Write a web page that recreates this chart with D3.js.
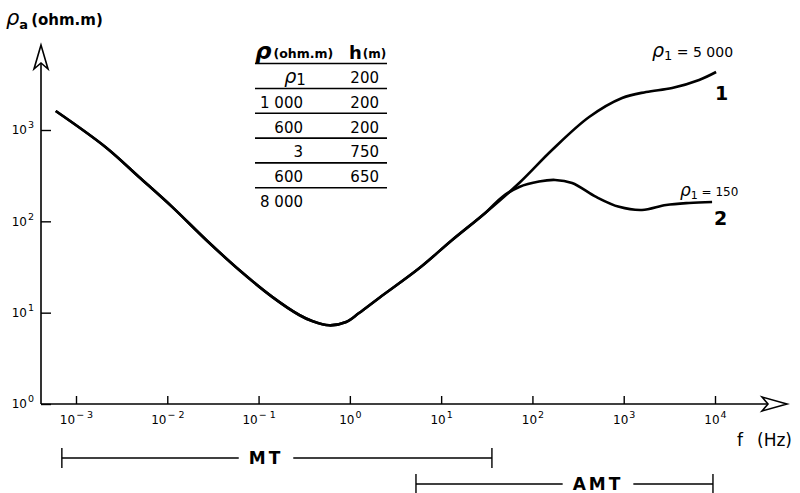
<!DOCTYPE html>
<html>
<head>
<meta charset="utf-8">
<script src="https://d3js.org/d3.v7.min.js"></script>
<style>
body { margin: 0; background: #fff; }
text { font-family: "DejaVu Sans", sans-serif; fill: #000; }
</style>
</head>
<body>
<script>
// apparent resistivity curves (f in Hz, rho in ohm.m)
var commonF   = [6.0e-4, 2.1e-3, 4.9e-3, 0.0113, 0.0267, 0.0614, 0.141, 0.279, 0.386, 0.593, 0.91, 1.26, 2.09, 5.74, 13.2, 31.1];
var commonRho = [1615, 652, 306, 144, 62.5, 29.3, 14.9, 9.43, 8.1, 7.27, 7.9, 9.9, 14.5, 30.6, 62.5, 126];

var curve1F   = [71.6, 164, 418, 960, 1758, 3390, 6700, 10280];
var curve1Rho = [263, 604, 1387, 2240, 2608, 2884, 3530, 4315];

var curve2F   = [46.6, 71.6, 118, 177, 272, 499, 891, 1585, 2915, 5200, 9290];
var curve2Rho = [185, 238, 273, 284, 263, 185, 144, 133, 151, 159, 163];

var xTicks = [1e-3, 1e-2, 1e-1, 1, 10, 100, 1000, 10000];
var yTicks = [1, 10, 100, 1000];

var tableRho = ["ρ1", "1 000", "600", "3", "600", "8 000"];
var tableH   = ["200", "200", "200", "750", "650", ""];

var bands = [
  {name: "MT",  from: 7e-4, to: 36},
  {name: "AMT", from: 5.3,  to: 9500}
];

var svg = d3.select("body").append("svg")
  .attr("width", 800)
  .attr("height", 493);

var x = d3.scaleLog().domain([1e-3, 1e4]).range([76, 715]);
var y = d3.scaleLog().domain([1, 1e3]).range([404, 130]);

var x0 = 41, yBase = 404;

// axes lines + arrows
svg.append("line").attr("x1", x0).attr("x2", 770).attr("y1", yBase).attr("y2", yBase)
  .attr("stroke", "#000").attr("stroke-width", 1.6);
svg.append("line").attr("x1", x0).attr("x2", x0).attr("y1", yBase).attr("y2", 62)
  .attr("stroke", "#000").attr("stroke-width", 1.6);
svg.append("path").attr("d", "M787,404 L762,397 L768,404 L762,411 Z")
  .attr("fill", "#fff").attr("stroke", "#000").attr("stroke-width", 1.6);
svg.append("path").attr("d", "M41,45 L34,69 L41,63 L48,69 Z")
  .attr("fill", "#fff").attr("stroke", "#000").attr("stroke-width", 1.6);

function supLabel(sel, d) {
  var e = Math.round(Math.log10(d));
  sel.text(null);
  sel.append("tspan").text("10");
  sel.append("tspan").attr("dy", -6).attr("dx", 1).attr("font-size", 9.5)
    .text(e < 0 ? "\u2212 " + (-e) : String(e));
}

var xAxis = d3.axisBottom(x).tickValues(xTicks).tickSizeInner(-8).tickSizeOuter(0).tickPadding(11);
var gx = svg.append("g").attr("transform", "translate(0," + yBase + ")").call(xAxis);
gx.select(".domain").remove();
gx.selectAll(".tick line").attr("stroke-width", 1.4);
gx.selectAll(".tick text").attr("font-size", 12).attr("font-family", "DejaVu Sans, sans-serif")
  .each(function(d) { supLabel(d3.select(this), d); });

var yAxis = d3.axisLeft(y).tickValues(yTicks).tickSizeInner(-10).tickSizeOuter(0).tickPadding(7);
var gy = svg.append("g").attr("transform", "translate(" + x0 + ",0)").call(yAxis);
gy.select(".domain").remove();
gy.selectAll(".tick line").attr("stroke-width", 1.4);
gy.selectAll(".tick text").attr("font-size", 12).attr("font-family", "DejaVu Sans, sans-serif")
  .each(function(d) { supLabel(d3.select(this), d); });

// curves
var line = d3.line()
  .x(function(d) { return x(d[0]); })
  .y(function(d) { return y(d[1]); })
  .curve(d3.curveCatmullRom.alpha(0.5));

function pts(fs, rs) { return fs.map(function(f, i) { return [f, rs[i]]; }); }
var common = pts(commonF, commonRho);

svg.append("path").datum(common.concat(pts(curve1F, curve1Rho)))
  .attr("d", line).attr("fill", "none").attr("stroke", "#000").attr("stroke-width", 2.6);
svg.append("path").datum(common.concat(pts(curve2F, curve2Rho)))
  .attr("d", line).attr("fill", "none").attr("stroke", "#000").attr("stroke-width", 2.6);

// curve labels
function rhoSub(xx, yy, val, fs) {
  var tx = svg.append("text").attr("x", xx).attr("y", yy).attr("font-size", fs);
  tx.append("tspan").attr("font-style", "italic").attr("font-size", fs + 5).text("ρ");
  tx.append("tspan").attr("dy", 3).attr("font-size", fs - 1).text("1");
  tx.append("tspan").attr("dy", -3).text(" = " + val);
  return tx;
}
rhoSub(652, 57, "5 000", 14);
rhoSub(680, 196, "150", 12);
svg.append("text").attr("x", 715).attr("y", 100).attr("font-size", 19).attr("font-weight", "bold").text("1");
svg.append("text").attr("x", 714).attr("y", 225).attr("font-size", 19).attr("font-weight", "bold").text("2");

// axis titles
var yt = svg.append("text").attr("x", 6).attr("y", 25).attr("font-size", 15).attr("font-weight", "bold");
yt.append("tspan").attr("font-style", "italic").attr("font-size", 21).attr("font-weight", "normal").text("ρ");
yt.append("tspan").attr("dy", 4).attr("font-size", 13).text("a");
yt.append("tspan").attr("dy", -4).attr("dx", 3).text("(ohm.m)");

var xt = svg.append("text").attr("x", 737).attr("y", 446).attr("font-size", 17);
xt.append("tspan").text("f");
xt.append("tspan").attr("x", 757).text("(Hz)");

// layer table
var tbl = svg.append("g");
var th = tbl.append("text").attr("x", 255).attr("y", 59).attr("font-weight", "bold");
th.append("tspan").attr("font-style", "italic").attr("font-size", 23).text("ρ");
th.append("tspan").attr("font-size", 12.5).attr("dx", 2).attr("dy", -1).text("(ohm.m)");
var th2 = tbl.append("text").attr("x", 349).attr("y", 59).attr("font-weight", "bold");
th2.append("tspan").attr("font-size", 18).text("h");
th2.append("tspan").attr("font-size", 12).attr("dx", 1).attr("dy", -1).text("(m)");

tbl.append("line").attr("x1", 255).attr("x2", 387).attr("y1", 63.5).attr("y2", 63.5)
  .attr("stroke", "#000").attr("stroke-width", 1.6);

tableRho.forEach(function(r, i) {
  var by = 83 + i * 24.8;
  if (r === "ρ1") {
    var t = tbl.append("text").attr("x", 295).attr("y", by).attr("text-anchor", "middle").attr("font-size", 15);
    t.append("tspan").attr("font-style", "italic").attr("font-size", 19).text("ρ");
    t.append("tspan").attr("dy", 2).text("1");
  } else {
    tbl.append("text").attr("x", 303).attr("y", by).attr("text-anchor", "end")
      .attr("font-size", 15).text(r);
  }
  if (tableH[i]) {
    tbl.append("text").attr("x", 379).attr("y", by).attr("text-anchor", "end")
      .attr("font-size", 15).text(tableH[i]);
  }
  if (i < tableRho.length - 1) {
    tbl.append("line").attr("x1", 255).attr("x2", 387).attr("y1", by + 5.5).attr("y2", by + 5.5)
      .attr("stroke", "#000").attr("stroke-width", 1.6);
  }
});

// MT / AMT frequency bands
bands.forEach(function(b, i) {
  var by = 458 + i * 26;
  var a = x(b.from), z = x(b.to);
  var mid = i === 0 ? 266 : 598;
  var label = svg.append("text").attr("x", mid).attr("y", by + 6).attr("font-size", 17)
    .attr("font-weight", "bold").attr("letter-spacing", 3).attr("text-anchor", "middle").text(b.name);
  var w = label.node().getComputedTextLength() / 2 + 10;
  var g = svg.append("g").attr("stroke", "#000").attr("stroke-width", 1.4);
  g.append("line").attr("x1", a).attr("x2", mid - w).attr("y1", by).attr("y2", by);
  g.append("line").attr("x1", mid + w).attr("x2", z).attr("y1", by).attr("y2", by);
  g.append("line").attr("x1", a).attr("x2", a).attr("y1", by - 10).attr("y2", by + 10);
  g.append("line").attr("x1", z).attr("x2", z).attr("y1", by - 10).attr("y2", by + 10);
});
</script>
</body>
</html>
